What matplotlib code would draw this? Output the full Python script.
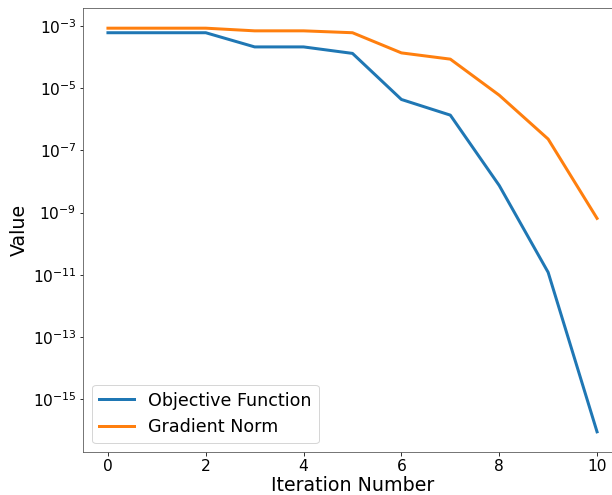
import matplotlib
matplotlib.use("Agg")
import matplotlib.pyplot as plt

iterations = [0, 1, 2, 3, 4, 5, 6, 7, 8, 9, 10]
objective = [6e-4, 6e-4, 6e-4, 2.1e-4, 2.1e-4, 1.3e-4, 4.3e-6, 1.35e-6, 7.4e-9, 1.2e-11, 9e-17]
grad_norm = [8.4e-4, 8.4e-4, 8.4e-4, 6.9e-4, 6.9e-4, 6e-4, 1.35e-4, 8.5e-5, 5.9e-6, 2.3e-7, 6.5e-10]

fig = plt.figure(figsize=(612/72, 495/72), dpi=72)
ax = fig.add_axes([83.5/612, 1-452/495, (621.5-83.5)/612, (452-8)/495])
ax.plot(iterations, objective, lw=3, color="#1f77b4", label="Objective Function")
ax.plot(iterations, grad_norm, lw=3, color="#ff7f0e", label="Gradient Norm")
ax.set_yscale("log")
ax.set_xticks([0, 2, 4, 6, 8, 10])
ax.set_yticks([1e-3, 1e-5, 1e-7, 1e-9, 1e-11, 1e-13, 1e-15])
ax.minorticks_off()
ax.tick_params(labelsize=15.5)
for s in ax.spines.values():
    s.set_color("#555555")
ax.set_xlabel("Iteration Number", fontsize=19, labelpad=2)
ax.set_ylabel("Value", fontsize=19)
ax.legend(loc="lower left", fontsize=17.5)
fig.savefig("out.png", dpi=72)
